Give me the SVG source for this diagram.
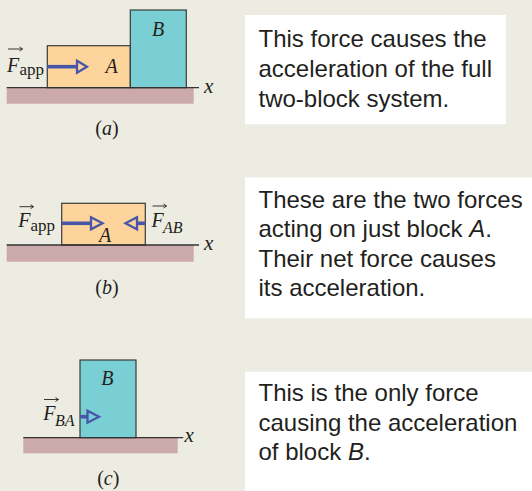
<svg xmlns="http://www.w3.org/2000/svg" width="532" height="491" viewBox="0 0 532 491">
<style>
.bg{fill:#edece2}
.box{fill:#ffffff}
.txt{font-family:"Liberation Sans",Arial,Helvetica,sans-serif;font-size:24px;fill:#231f20}
.blkA{fill:#fdd49b;stroke:#3a3a3a;stroke-width:1.2}
.blkB{fill:#79cfd3;stroke:#3a3a3a;stroke-width:1.2}
.grnd{fill:#cca9aa}
.gline{stroke:#333;stroke-width:1.3;fill:none}
.shaft{stroke:#4756a8;stroke-width:3.6;fill:none}
.head{stroke:#4756a8;stroke-width:2.3;fill:none;stroke-linejoin:miter}
.m{font-family:"Liberation Serif","Times New Roman",serif;font-style:italic;font-size:20px;fill:#231f20}
.F{font-family:"Liberation Serif","Times New Roman",serif;font-style:italic;font-size:20px;fill:#231f20}
.sub{font-family:"Liberation Serif","Times New Roman",serif;font-size:17px;fill:#231f20}
.subi{font-family:"Liberation Serif","Times New Roman",serif;font-style:italic;font-size:16px;fill:#231f20}
.cap{font-family:"Liberation Serif","Times New Roman",serif;font-size:20px;fill:#231f20;text-anchor:middle}
.vec{stroke:#231f20;stroke-width:0.9;fill:none}
</style>
<rect class="bg" x="0" y="0" width="532" height="491"/>

<!-- Panel (a) -->
<g id="panel-a">
  <rect class="grnd" x="6.7" y="88" width="187" height="15.7"/>
  <g id="a-blockA"><rect class="blkA" x="47.3" y="45.7" width="83" height="42"/>
    <text class="m" x="111.5" y="72.5" text-anchor="middle">A</text></g>
  <g id="a-blockB"><rect class="blkB" x="130.3" y="10" width="56" height="77.7"/>
    <text class="m" x="158" y="36" text-anchor="middle">B</text></g>
  <line class="gline" x1="6.7" y1="87.7" x2="199" y2="87.7"/>
  <text class="m" x="204" y="92.5" style="font-size:21px">x</text>
  <g id="a-Fapp">
    <line class="shaft" x1="47.3" y1="66.7" x2="77" y2="66.7"/>
    <path class="head" d="M77 60.7 L87 66.7 L77 72.7 Z"/>
    <path class="vec" d="M8 49 H22.5 M19.5 47 L22.5 49 L19.5 51"/>
    <text class="F" x="7" y="71.5">F</text>
    <text class="sub" x="19.5" y="75">app</text>
  </g>
  <text class="cap" x="107" y="134.5">(<tspan font-style="italic">a</tspan>)</text>
</g>

<!-- Panel (b) -->
<g id="panel-b">
  <rect class="grnd" x="6.7" y="245" width="187" height="16.7"/>
  <g id="b-blockA"><rect class="blkA" x="61.7" y="203.3" width="83.6" height="41.7"/></g>
  <line class="gline" x1="6.7" y1="245" x2="199" y2="245"/>
  <text class="m" x="204" y="249.5" style="font-size:21px">x</text>
  <g id="b-Fapp">
    <line class="shaft" x1="61.7" y1="223.3" x2="91" y2="223.3"/>
    <path class="head" d="M91 217.3 L102.5 223.3 L91 229.3 Z"/>
    <path class="vec" d="M19.5 206.7 H33.5 M30.5 204.7 L33.5 206.7 L30.5 208.7"/>
    <text class="F" x="18.3" y="227">F</text>
    <text class="sub" x="30.5" y="231">app</text>
  </g>
  <g id="b-FAB">
    <line class="shaft" x1="137" y1="223.3" x2="145.3" y2="223.3"/>
    <path class="head" d="M137 217.3 L125.5 223.3 L137 229.3 Z"/>
    <path class="vec" d="M152.5 206 H166.5 M163.5 204 L166.5 206 L163.5 208"/>
    <text class="F" x="151.5" y="227">F</text>
    <text class="subi" x="163" y="232.5">AB</text>
  </g>
  <text class="m" x="105" y="241.5" text-anchor="middle">A</text>
  <text class="cap" x="107" y="294">(<tspan font-style="italic">b</tspan>)</text>
</g>

<!-- Panel (c) -->
<g id="panel-c">
  <rect class="grnd" x="23.3" y="437.7" width="154.4" height="15.6"/>
  <g id="c-blockB"><rect class="blkB" x="80" y="360" width="56" height="77.7"/>
    <text class="m" x="107.3" y="385" text-anchor="middle">B</text></g>
  <line class="gline" x1="23.3" y1="437.7" x2="183.3" y2="437.7"/>
  <text class="m" x="184.5" y="442" style="font-size:21px">x</text>
  <g id="c-FBA">
    <line class="shaft" x1="80" y1="416.7" x2="87.5" y2="416.7"/>
    <path class="head" d="M87.5 410.7 L99 416.7 L87.5 422.7 Z"/>
    <path class="vec" d="M44 399.5 H58.5 M55.5 397.5 L58.5 399.5 L55.5 401.5"/>
    <text class="F" x="43.3" y="420">F</text>
    <text class="subi" x="55" y="425.5">BA</text>
  </g>
  <text class="cap" x="108.3" y="485">(<tspan font-style="italic">c</tspan>)</text>
</g>

<!-- Text boxes -->
<g id="note-a">
  <rect class="box" x="245" y="15" width="261" height="109.3"/>
  <text class="txt" x="258.5" y="46.5">This force causes the</text>
  <text class="txt" x="258.5" y="76.5">acceleration of the full</text>
  <text class="txt" x="258.5" y="106.5">two-block system.</text>
</g>
<g id="note-b">
  <rect class="box" x="245" y="177.3" width="287" height="141"/>
  <text class="txt" x="258.5" y="207.5">These are the two forces</text>
  <text class="txt" x="258.5" y="237">acting on just block <tspan font-style="italic">A</tspan>.</text>
  <text class="txt" x="258.5" y="266.5">Their net force causes</text>
  <text class="txt" x="258.5" y="296">its acceleration.</text>
</g>
<g id="note-c">
  <rect class="box" x="245" y="371.7" width="287" height="119.3"/>
  <text class="txt" x="258.5" y="401">This is the only force</text>
  <text class="txt" x="258.5" y="430.5">causing the acceleration</text>
  <text class="txt" x="258.5" y="460">of block <tspan font-style="italic">B</tspan>.</text>
</g>
</svg>
